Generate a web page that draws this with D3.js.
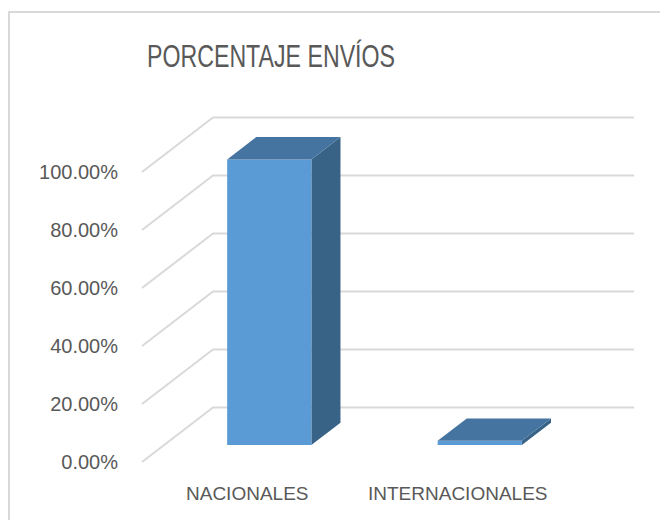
<!DOCTYPE html>
<html lang="es">
<head>
  <meta charset="UTF-8">
  <title>Porcentaje envíos</title>
  <style>
    body { margin: 0; background: #fff; }
    text { font-family: "Liberation Sans", Arial, sans-serif; fill: #595959; }
  </style>
</head>
<body>
<script src="https://d3js.org/d3.v7.min.js"></script>
<div id="chart"></div>

<script>
  // DATA ========================================================================
  const categories = ["NACIONALES", "INTERNACIONALES"];
  const values = [0.985, 0.015];
  const ticks = [0, 0.2, 0.4, 0.6, 0.8, 1.0];
  const title = "PORCENTAJE ENVÍOS";

  // PLOT AREA ===================================================================
  const W = 660, H = 520;
  const svg = d3.select("#chart").append("svg")
      .attr("width", W).attr("height", H);

  // chart border (the picture is cropped on right and bottom)
  svg.append("path")
      .attr("d", `M9,${H} V12 H${W}`)
      .attr("fill", "none")
      .attr("stroke", "#d9d9d9")
      .attr("stroke-width", 2);

  // front floor edge, and the depth vector of the 3D box
  const front = {left: 142, right: 563, bottom: 462, top: 172};
  const depth = {dx: 71, dy: -54.5};
  const barDepth = [0.31, 0.72];   // where the columns sit along the depth

  const y = d3.scaleLinear().domain([0, 1]).range([front.bottom, front.top]);
  const x = d3.scaleBand().domain(categories).range([front.left, front.right]).padding(0);
  const barW = x.bandwidth() * 0.4;

  // project (x on front plane, value, depth fraction) -> screen point
  const proj = (px, v, t) => [px + t * depth.dx, y(v) + t * depth.dy];

  // GRIDLINES ===================================================================
  svg.append("g").selectAll("path")
    .data(ticks)
    .join("path")
      .attr("d", d => d3.line()([proj(front.left, d, 0), proj(front.left, d, 1), proj(front.right, d, 1)]))
      .attr("fill", "none")
      .attr("stroke", "#d9d9d9")
      .attr("stroke-width", 2);

  // AXIS LABELS =================================================================
  svg.append("g").selectAll("text")
    .data(ticks)
    .join("text")
      .attr("x", 118)
      .attr("y", d => y(d))
      .attr("dy", "0.36em")
      .attr("text-anchor", "end")
      .attr("font-size", 20)
      .text(d => d3.format(".2%")(d));

  svg.append("g").selectAll("text")
    .data(categories)
    .join("text")
      .attr("x", d => x(d) + x.bandwidth() / 2)
      .attr("y", 500)
      .attr("text-anchor", "middle")
      .attr("font-size", 19)
      .text(d => d);

  // BARS ========================================================================
  const bars = svg.append("g").selectAll("g")
    .data(categories.map((c, i) => ({cat: c, value: values[i]})))
    .join("g");

  const poly = pts => d3.line()(pts) + "Z";
  const corners = d => {
    const x0 = x(d.cat) + (x.bandwidth() - barW) / 2, x1 = x0 + barW;
    const [t0, t1] = barDepth;
    return {
      fbl: proj(x0, 0, t0), fbr: proj(x1, 0, t0),
      ftl: proj(x0, d.value, t0), ftr: proj(x1, d.value, t0),
      bbr: proj(x1, 0, t1), btl: proj(x0, d.value, t1), btr: proj(x1, d.value, t1)
    };
  };

  // side face
  bars.append("path")
      .attr("d", d => { const c = corners(d); return poly([c.fbr, c.ftr, c.btr, c.bbr]); })
      .attr("fill", "#386387");
  // front face
  bars.append("path")
      .attr("d", d => { const c = corners(d); return poly([c.fbl, c.ftl, c.ftr, c.fbr]); })
      .attr("fill", "#5b9bd5");
  // top face
  bars.append("path")
      .attr("d", d => { const c = corners(d); return poly([c.ftl, c.btl, c.btr, c.ftr]); })
      .attr("fill", "#44749f");

  // TITLE =======================================================================
  svg.append("text")
      .attr("x", 271)
      .attr("y", 67)
      .attr("text-anchor", "middle")
      .attr("font-size", 31)
      .attr("textLength", 248)
      .attr("lengthAdjust", "spacingAndGlyphs")
      .text(title);
</script>
</body>
</html>
